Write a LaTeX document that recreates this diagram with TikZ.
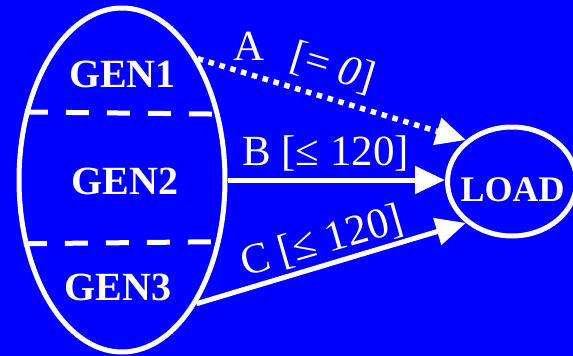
\documentclass[tikz,border=0pt]{standalone}
\usepackage{fontspec}
\setmainfont{Liberation Serif}
\usetikzlibrary{shapes.geometric,arrows.meta}
\definecolor{bg}{RGB}{0,0,255}
\begin{document}
\begin{tikzpicture}[x=1pt,y=-1pt,
  every node/.style={text=white},
  shell/.style={draw=white, line width=5pt, ellipse, inner sep=0pt},
  lbl/.style={font=\fontsize{43}{43}\selectfont, inner sep=0pt},
  gtext/.style={font=\bfseries\fontsize{40}{40}\selectfont, inner sep=0pt},
  ltext/.style={font=\bfseries\fontsize{36}{36}\selectfont, inner sep=0pt},
  flow/.style={draw=white, line width=5pt, -{Triangle[length=30pt,width=27pt]}},
  sep/.style={draw=white, line width=5pt, dash pattern=on 23pt off 18pt},
]
\fill[bg] (0,0) rectangle (573,356);
\useasboundingbox (0,0) rectangle (573,356);
\clip (0,0) rectangle (573,356);

\node[shell, minimum width=206pt, minimum height=344pt] (gen) at (122,180) {};
\node[shell, minimum width=129pt, minimum height=109pt] (load) at (512,181.5) {};

\node[gtext] (g1) at (122.5,74) {GEN1};
\node[gtext] (g2) at (125,181.5) {GEN2};
\node[gtext] (g3) at (118,287.5) {GEN3};
\node[ltext] (lt) at (512.5,189.5) {LOAD};

\draw[sep] (gen.145.2) -- (gen.34.8);
\draw[sep] (gen.-147.6) -- (gen.-32.4);

\draw[flow, dash pattern=on 5.5pt off 5.8pt, line width=5.5pt] (gen.58.6) -- (load.138.6);
\draw[flow] (gen.east) -- (gen.east -| load.west);
\draw[flow] (gen.-59.3) -- (load.222.8);

\node[lbl] (la) at (249,46) {A};
\node[lbl, rotate=-17] (la2) at (333,68) {[= \textit{0}]};
\node[lbl] (lb) at (325.5,153) {B [≤ 120]};
\node[lbl, rotate=16] (lc) at (322,242) {C [≤ 120]};
\end{tikzpicture}
\end{document}
